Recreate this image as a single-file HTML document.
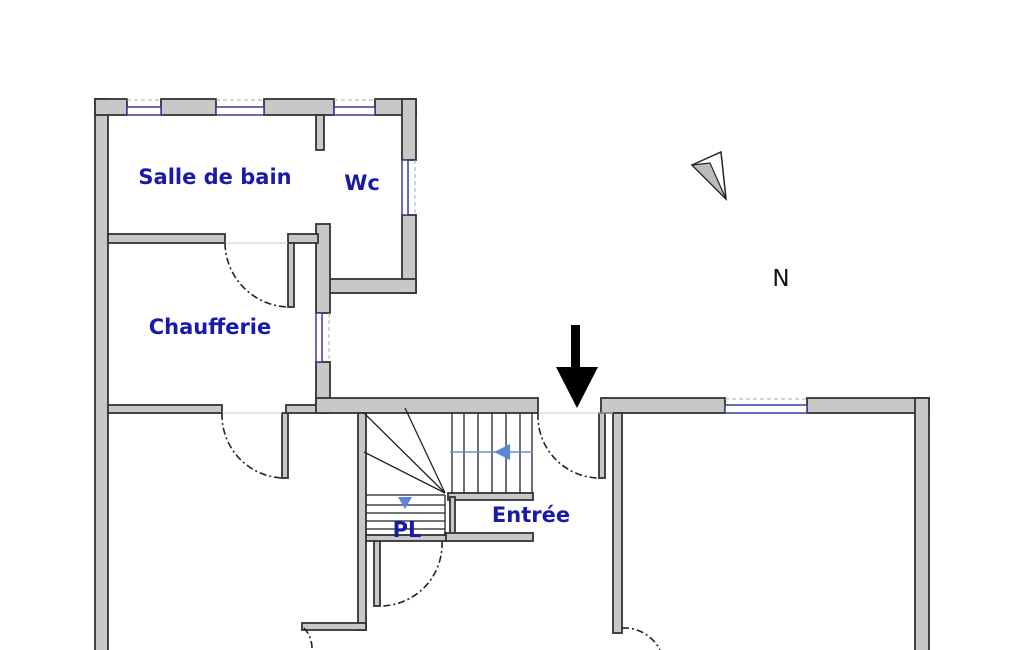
<!DOCTYPE html>
<html><head><style>html,body{margin:0;padding:0;background:#fff;width:1025px;height:650px;overflow:hidden}</style></head>
<body>
<svg width="1025" height="650" viewBox="0 0 1025 650" xmlns="http://www.w3.org/2000/svg">
<g fill="#c8c8c8" stroke="#333" stroke-width="1.8">
<rect x="95" y="99" width="13" height="560"/>
<rect x="95" y="99" width="32" height="16"/>
<rect x="161" y="99" width="55" height="16"/>
<rect x="264" y="99" width="70" height="16"/>
<rect x="375" y="99" width="41" height="16"/>
<rect x="402" y="99" width="14" height="61"/>
<rect x="402" y="215" width="14" height="78"/>
<rect x="322" y="279" width="94" height="14"/>
<rect x="316" y="115" width="8" height="35"/>
<rect x="316" y="224" width="14" height="89"/>
<rect x="316" y="362" width="14" height="44"/>
<rect x="108" y="234" width="117" height="9"/>
<rect x="288" y="234" width="30" height="9"/>
<rect x="288" y="243" width="6" height="64"/>
<rect x="108" y="405" width="114" height="8"/>
<rect x="286" y="405" width="44" height="8"/>
<rect x="316" y="398" width="222" height="15"/>
<rect x="282" y="413" width="6" height="65"/>
<rect x="358" y="413" width="8" height="217"/>
<rect x="302" y="623" width="64" height="7"/>
<rect x="374" y="540" width="6" height="66"/>
<rect x="448" y="493" width="85" height="7"/>
<rect x="450" y="497" width="5" height="40"/>
<rect x="445" y="533" width="88" height="8"/>
<rect x="366" y="535" width="80" height="6"/>
<rect x="599" y="413" width="6" height="65"/>
<rect x="601" y="398" width="124" height="15"/>
<rect x="807" y="398" width="122" height="15"/>
<rect x="613" y="413" width="9" height="220"/>
<rect x="915" y="398" width="14" height="260"/>
</g>
<g stroke="#3a3aa0" stroke-width="1.5" fill="#fff">
<rect x="127" y="107" width="34" height="8"/>
<rect x="216" y="107" width="48" height="8"/>
<rect x="334" y="107" width="41" height="8"/>
<rect x="402" y="160" width="6" height="55"/>
<rect x="316" y="313" width="6" height="49"/>
<rect x="725" y="405" width="82" height="8"/>
</g>
<g stroke="#aaa" stroke-width="1" stroke-dasharray="4 3" fill="none">
<line x1="127" y1="100" x2="161" y2="100"/><line x1="216" y1="100" x2="264" y2="100"/><line x1="334" y1="100" x2="375" y2="100"/>
<line x1="415" y1="160" x2="415" y2="215"/><line x1="329" y1="313" x2="329" y2="362"/><line x1="725" y1="399" x2="807" y2="399"/>
</g>
<g stroke="#ccc" stroke-width="1">
<line x1="225" y1="243" x2="288" y2="243"/><line x1="222" y1="413" x2="282" y2="413"/>
<line x1="538" y1="413" x2="613" y2="413"/>
</g>
<g stroke="#222" stroke-width="1.6" fill="none" stroke-dasharray="7 3 2 3">
<path d="M225 243 A65 65 0 0 0 290 307"/>
<path d="M222 413 A63 63 0 0 0 285 478"/>
<path d="M538 413 A62 62 0 0 0 600 478"/>
<path d="M442 541 A62 62 0 0 1 380 606"/>
<path d="M304 628 A30 30 0 0 1 312 650"/>
<path d="M622 628 A40 40 0 0 1 660 650"/>
</g>
<g stroke="#222" stroke-width="1.3" fill="none">
<line x1="445" y1="493" x2="364" y2="413"/>
<line x1="445" y1="493" x2="405" y2="408"/>
<line x1="445" y1="493" x2="364" y2="452"/>
<line x1="366" y1="495" x2="445" y2="495"/>
<line x1="366" y1="505" x2="445" y2="505"/>
<line x1="366" y1="513" x2="445" y2="513"/>
<line x1="366" y1="521" x2="445" y2="521"/>
<line x1="366" y1="529" x2="445" y2="529"/>
<line x1="445" y1="495" x2="445" y2="535"/>
<line x1="452" y1="413" x2="452" y2="493"/>
<line x1="464" y1="413" x2="464" y2="493"/>
<line x1="478" y1="413" x2="478" y2="493"/>
<line x1="492" y1="413" x2="492" y2="493"/>
<line x1="506" y1="413" x2="506" y2="493"/>
<line x1="520" y1="413" x2="520" y2="493"/>
<line x1="532" y1="413" x2="532" y2="493"/>
</g>
<line x1="450" y1="452" x2="533" y2="452" stroke="#6a8fd8" stroke-width="1.5"/>
<polygon points="494,452 510,444 510,460" fill="#5b86d6"/>
<polygon points="398,497 412,497 405,509" fill="#5b86d6"/>
<rect x="571" y="325" width="9" height="45" fill="#000"/>
<polygon points="556,367 598,367 577,408" fill="#000"/>
<polygon points="692,165 721,152 726,199" fill="#fff" stroke="#222" stroke-width="1.5"/>
<polygon points="692,165 710,163 726,199" fill="#bbb" stroke="#222" stroke-width="1.2"/>
<g font-family="'DejaVu Sans',sans-serif" font-weight="bold" fill="#1a1aa8" font-size="21">
<text x="215" y="184" text-anchor="middle">Salle de bain</text>
<text x="362" y="190" text-anchor="middle">Wc</text>
<text x="210" y="334" text-anchor="middle">Chaufferie</text>
<text x="531" y="522" text-anchor="middle">Entrée</text>
<text x="407" y="537" text-anchor="middle">PL</text>
</g>
<text x="781" y="286" text-anchor="middle" font-family="'DejaVu Sans',sans-serif" font-size="23" fill="#111">N</text>
</svg>
</body></html>
